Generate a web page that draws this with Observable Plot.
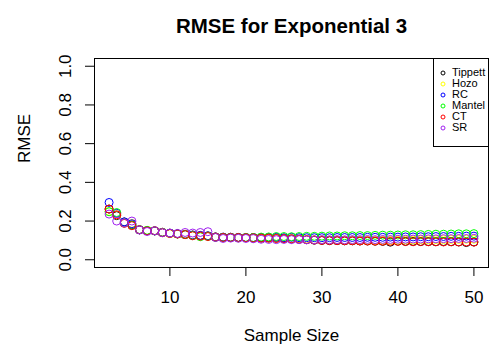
<!DOCTYPE html>
<html>
<head>
<meta charset="utf-8">
<script src="https://cdn.jsdelivr.net/npm/d3@7"></script>
<script src="https://cdn.jsdelivr.net/npm/@observablehq/plot@0.6"></script>
<style>
  body { margin: 0; background: #fff; }
  #wrap { position: relative; width: 490px; height: 358px; font-family: "Liberation Sans", Arial, Helvetica, sans-serif; }
  #legend { position: absolute; left: 433px; top: 58px; width: 56px; height: 89px; border: 1px solid #000; box-sizing: border-box; background: #fff; overflow: hidden; }
  .li { position: absolute; left: 0; height: 11px; line-height: 11px; font-size: 11px; white-space: nowrap; color: #000; }
  .li svg { position: absolute; left: 5px; top: 2px; }
  .li span { position: absolute; left: 18px; top: 0; }
</style>
</head>
<body>
<div id="wrap"></div>
<script>
const sampleSize = [2,3,4,5,6,7,8,9,10,11,12,13,14,15,16,17,18,19,20,21,22,23,24,25,26,27,28,29,30,31,32,33,34,35,36,37,38,39,40,41,42,43,44,45,46,47,48,49,50];

const seriesNames = ["Tippett", "Hozo", "RC", "Mantel", "CT", "SR"];
const seriesColors = ["#000000", "#FFFF00", "#0000FF", "#00FF00", "#FF0000", "#A020F0"];

const tippett = [0.262,0.228,0.195,0.180,0.155,0.150,0.149,0.142,0.137,0.134,0.131,0.127,0.125,0.123,0.118,0.116,0.116,0.115,0.114,0.113,0.112,0.112,0.111,0.110,0.108,0.106,0.104,0.101,0.100,0.099,0.099,0.098,0.098,0.097,0.097,0.096,0.095,0.091,0.096,0.095,0.095,0.094,0.094,0.093,0.094,0.093,0.092,0.089,0.092];
const hozo    = [0.250,0.232,0.192,0.188,0.155,0.151,0.150,0.142,0.135,0.134,0.132,0.128,0.126,0.124,0.118,0.116,0.116,0.113,0.114,0.113,0.112,0.112,0.111,0.110,0.108,0.107,0.106,0.104,0.104,0.103,0.103,0.102,0.102,0.101,0.101,0.100,0.101,0.100,0.101,0.102,0.102,0.103,0.103,0.104,0.104,0.105,0.105,0.106,0.106];
const rc      = [0.296,0.240,0.196,0.186,0.154,0.150,0.149,0.141,0.137,0.134,0.131,0.128,0.126,0.124,0.118,0.117,0.116,0.115,0.115,0.115,0.115,0.115,0.116,0.114,0.116,0.114,0.114,0.114,0.114,0.114,0.115,0.115,0.115,0.115,0.116,0.116,0.116,0.117,0.117,0.118,0.118,0.119,0.119,0.120,0.120,0.121,0.121,0.122,0.122];
const mantel  = [0.248,0.244,0.190,0.178,0.156,0.152,0.150,0.141,0.137,0.133,0.130,0.125,0.119,0.121,0.116,0.115,0.115,0.114,0.115,0.115,0.117,0.118,0.120,0.120,0.119,0.120,0.121,0.121,0.122,0.123,0.123,0.124,0.124,0.125,0.125,0.126,0.127,0.127,0.128,0.129,0.129,0.130,0.131,0.132,0.132,0.133,0.134,0.134,0.135];
const ct      = [0.262,0.232,0.188,0.176,0.155,0.149,0.150,0.140,0.136,0.133,0.130,0.124,0.122,0.120,0.117,0.115,0.115,0.115,0.114,0.113,0.112,0.112,0.110,0.109,0.108,0.106,0.104,0.102,0.100,0.099,0.099,0.098,0.098,0.097,0.097,0.096,0.096,0.095,0.095,0.094,0.093,0.094,0.093,0.093,0.092,0.093,0.092,0.092,0.091];
const sr      = [0.236,0.200,0.190,0.200,0.155,0.146,0.150,0.140,0.138,0.136,0.141,0.138,0.141,0.145,0.115,0.110,0.112,0.111,0.110,0.109,0.106,0.105,0.104,0.105,0.104,0.104,0.103,0.103,0.104,0.103,0.104,0.103,0.104,0.104,0.105,0.104,0.105,0.105,0.106,0.106,0.107,0.107,0.108,0.108,0.109,0.109,0.110,0.110,0.111];

const allSeries = [tippett, hozo, rc, mantel, ct, sr];
const rows = [];
allSeries.forEach((vals, si) => {
  vals.forEach((v, i) => rows.push({ n: sampleSize[i], rmse: v, method: seriesNames[si] }));
});

const xTicks = [10, 20, 30, 40, 50];
const yTicks = [0, 0.2, 0.4, 0.6, 0.8, 1.0];

const chart = Plot.plot({
  width: 490,
  height: 358,
  marginLeft: 94,
  marginRight: 2,
  marginTop: 58,
  marginBottom: 91,
  style: { fontFamily: '"Liberation Sans", Arial, Helvetica, sans-serif', color: "#000", background: "#fff" },
  x: { domain: [0.08, 51.92] },
  y: { domain: [-0.04, 1.04] },
  color: { domain: seriesNames, range: seriesColors },
  marks: [
    Plot.axisX({ ticks: xTicks, tickSize: 9, tickPadding: 14, fontSize: 17, label: null, tickFormat: d => String(d) }),
    Plot.axisY({ ticks: yTicks, tickSize: 9, tickPadding: 15, tickRotate: -90, fontSize: 17, label: null, tickFormat: d => d.toFixed(1) }),
    Plot.frame({ stroke: "#000", strokeWidth: 1 }),
    Plot.dot(rows, { x: "n", y: "rmse", stroke: "method", r: 4, strokeWidth: 1, fill: "none" }),
    Plot.text(["RMSE for Exponential 3"], { frameAnchor: "top", dy: -40, fontSize: 20.5, fontWeight: "bold" }),
    Plot.text(["RMSE"], { frameAnchor: "left", dx: -69.5, rotate: -90, fontSize: 17 }),
    Plot.text(["Sample Size"], { frameAnchor: "bottom", dy: 73, fontSize: 17 })
  ]
});

const wrap = document.getElementById("wrap");
wrap.appendChild(chart);

const legend = document.createElement("div");
legend.id = "legend";
seriesNames.forEach((name, i) => {
  const item = document.createElement("div");
  item.className = "li";
  item.style.top = (8 + i * 11) + "px";
  item.innerHTML = `<svg width="8" height="8"><circle cx="4" cy="4" r="2" fill="none" stroke="${seriesColors[i]}" stroke-width="1"/></svg><span>${name}</span>`;
  legend.appendChild(item);
});
wrap.appendChild(legend);
</script>
</body>
</html>
